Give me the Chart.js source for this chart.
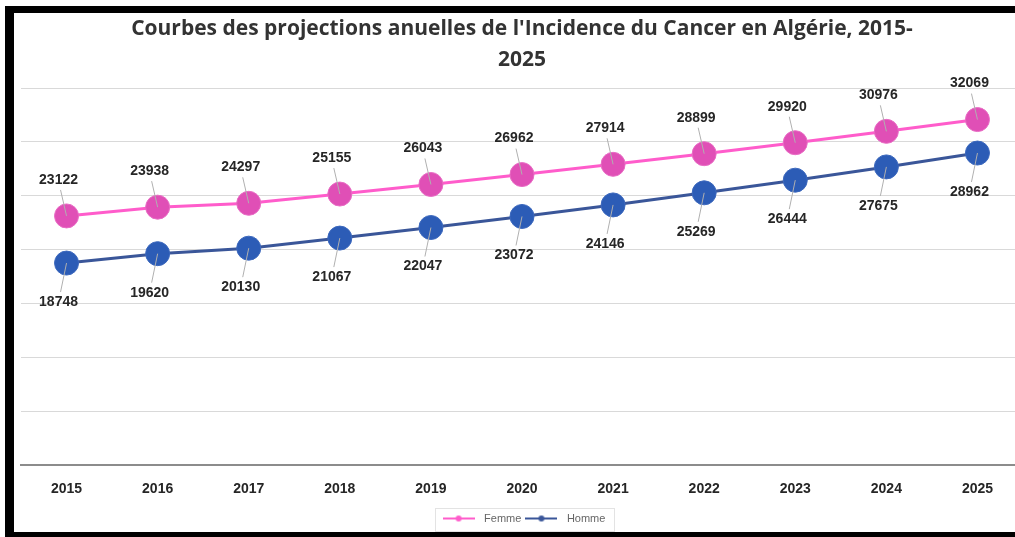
<!DOCTYPE html>
<html>
<head>
<meta charset="utf-8">
<script src="https://cdn.jsdelivr.net/npm/chart.js@4/dist/chart.umd.min.js"></script>
<style>
  html, body { margin: 0; padding: 0; background: #fff; overflow: hidden; }
  #frame {
    position: absolute; left: 5px; top: 6px;
    width: 1016px; height: 519px; overflow: hidden;
    border-left: 9px solid #000; border-top: 7px solid #000; border-bottom: 5px solid #000;
  }
  canvas { display: block; }
</style>
</head>
<body>
<div id="frame"><canvas id="chart" width="1016" height="523"></canvas></div>
<script>
// données
const annees = ['2015', '2016', '2017', '2018', '2019', '2020', '2021', '2022', '2023', '2024', '2025'];
const femme = [23122, 23938, 24297, 25155, 26043, 26962, 27914, 28899, 29920, 30976, 32069];
const homme = [18748, 19620, 20130, 21067, 22047, 23072, 24146, 25269, 26444, 27675, 28962];
const titre = ["Courbes des projections anuelles de l'Incidence du Cancer en Algérie, 2015-", '2025'];

// petite icône de légende : trait + point
function iconeLegende(couleur) {
  const c = document.createElement('canvas');
  c.width = 32; c.height = 8;
  const g = c.getContext('2d');
  g.strokeStyle = couleur; g.lineWidth = 2;
  g.beginPath(); g.moveTo(0, 4); g.lineTo(32, 4); g.stroke();
  g.fillStyle = couleur;
  g.beginPath(); g.arc(16, 4, 3, 0, Math.PI * 2); g.fill();
  return c;
}

// étiquettes avec trait de rappel
const etiquettes = {
  id: 'etiquettes',
  afterDatasetsDraw(chart) {
    const ctx = chart.ctx;
    ctx.save();
    ctx.font = 'bold 14px "Liberation Sans", Arial, sans-serif';
    ctx.textAlign = 'center';
    ctx.textBaseline = 'middle';
    chart.data.datasets.forEach((ds, i) => {
      const dy = i === 0 ? -36 : 39;
      chart.getDatasetMeta(i).data.forEach((pt, j) => {
        const lx = pt.x - 8, ly = pt.y + dy;
        ctx.strokeStyle = '#b0b0b0';
        ctx.lineWidth = 1;
        ctx.beginPath();
        ctx.moveTo(lx + 2, ly + (dy < 0 ? 10 : -10));
        ctx.lineTo(pt.x, pt.y);
        ctx.stroke();
        ctx.fillStyle = '#262626';
        ctx.fillText(ds.data[j], lx, ly);
      });
    });
    ctx.restore();
  }
};

// cadre gris autour de la légende
const cadreLegende = {
  id: 'cadreLegende',
  afterDraw(chart) {
    const l = chart.legend, ctx = chart.ctx;
    const items = l.legendHitBoxes;
    if (!items.length) return;
    const last = items[items.length - 1];
    const x0 = items[0].left - 4, x1 = last.left + last.width + 8;
    const cy = items[0].top + items[0].height / 2;
    ctx.save();
    ctx.strokeStyle = '#e3e3e3';
    ctx.lineWidth = 1;
    ctx.strokeRect(Math.round(x0) + 0.5, Math.round(cy - 11) + 0.5, Math.round(x1 - x0), 23);
    ctx.restore();
  }
};

new Chart(document.getElementById('chart'), {
  type: 'line',
  data: {
    labels: annees,
    datasets: [{
      label: 'Femme',
      data: femme,
      borderColor: '#ff5ccb',
      borderWidth: 3,
      pointRadius: 12,
      pointHoverRadius: 12,
      pointBackgroundColor: '#e04fb6',
      pointBorderColor: '#e86cc4',
      pointBorderWidth: 1
    }, {
      label: 'Homme',
      data: homme,
      borderColor: '#3a5699',
      borderWidth: 3,
      pointRadius: 12,
      pointHoverRadius: 12,
      pointBackgroundColor: '#2c5cb6',
      pointBorderColor: '#3c68bd',
      pointBorderWidth: 1
    }]
  },
  options: {
    responsive: false,
    animation: false,
    layout: { autoPadding: false, padding: { left: 7, right: 7, top: 0, bottom: 2 } },
    scales: {
      x: {
        offset: true,
        grid: { display: false, drawTicks: false },
        border: { display: true, color: '#8c8c8c', width: 2 },
        ticks: {
          padding: 17,
          color: '#262626',
          font: { family: '"Liberation Sans", Arial, sans-serif', size: 14, weight: 'bold', lineHeight: 1 }
        }
      },
      y: {
        min: 0, max: 35000,
        ticks: { display: false, stepSize: 5000 },
        grid: { color: '#d9d9d9', lineWidth: 1, drawTicks: false },
        border: { display: false }
      }
    },
    plugins: {
      title: {
        display: true,
        text: titre,
        color: '#333333',
        font: { family: '"Open Sans", sans-serif', size: 21, weight: 'bold', lineHeight: 1.5 },
        padding: { top: 0, bottom: 12 }
      },
      legend: {
        position: 'bottom',
        labels: {
          usePointStyle: true,
          pointStyleWidth: 40,
          boxHeight: 8,
          padding: 0,
          color: '#666',
          font: { family: '"Liberation Sans", Arial, sans-serif', size: 11 },
          generateLabels(chart) {
            return chart.data.datasets.map((ds, i) => ({
              text: ds.label,
              pointStyle: iconeLegende(ds.borderColor),
              fontColor: '#666',
              datasetIndex: i,
              lineWidth: 0,
              strokeStyle: 'transparent',
              fillStyle: 'transparent'
            }));
          }
        }
      },
      tooltip: { enabled: false }
    }
  },
  plugins: [etiquettes, cadreLegende]
});
</script>
</body>
</html>
